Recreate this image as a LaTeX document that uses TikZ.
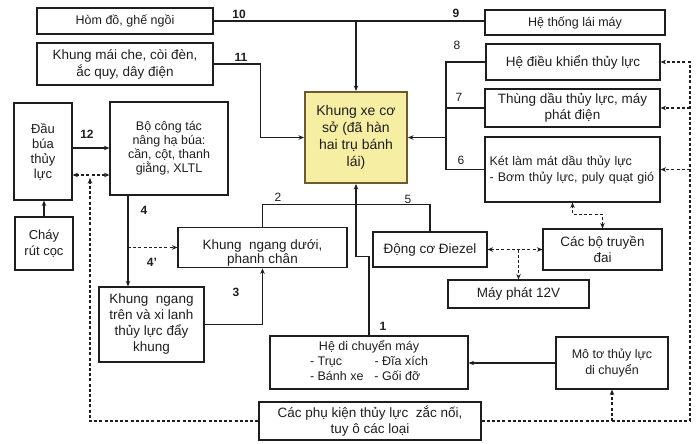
\documentclass[tikz,border=0pt]{standalone}
\usepackage{fontspec}
\setmainfont{Liberation Sans}
\usetikzlibrary{arrows.meta}
\definecolor{ink}{HTML}{1E1E1E}
\definecolor{yel}{HTML}{F6EEA2}
\definecolor{yelb}{HTML}{6E5A2C}
\begin{document}
\begin{tikzpicture}[x=1pt,y=-1pt,
  >={Stealth[length=5.5pt,width=4.5pt]},
  box/.style={draw=ink, line width=1.1pt, align=center, inner sep=2pt, text=ink},
  fbig/.style={font=\fontsize{13.5}{16}\selectfont},
  fmid/.style={font=\fontsize{12.5}{14.5}\selectfont},
  ln/.style={draw=ink, line width=1.1pt},
  arr/.style={draw=ink, line width=1.1pt, ->},
  dl/.style={draw=ink, line width=1.1pt, dash pattern=on 3pt off 2.2pt},
  lab/.style={font=\fontsize{12}{14}\selectfont\bfseries, text=ink, inner sep=0pt},
  labr/.style={font=\fontsize{12}{14}\selectfont, text=ink, inner sep=0pt}
]
\useasboundingbox (0,0) rectangle (696,444);

% boxes
\node[box, fmid, minimum width=176pt, minimum height=26pt] (hom) at (125,21) {Hòm đồ, ghế ngồi};
\node[box, font=\fontsize{13.5}{17}\selectfont, minimum width=176pt, minimum height=42pt] (mai) at (125,64) {Khung mái che, còi đèn,\\ắc quy, dây điện};
\node[box, fmid, minimum width=180pt, minimum height=25pt] (lai) at (575,22.5) {Hệ thống lái máy};
\node[box, fbig, minimum width=174pt, minimum height=36pt] (dk) at (573,62) {Hệ điều khiển thủy lực};
\node[box, fbig, minimum width=175pt, minimum height=38pt] (thung) at (572.5,108) {Thùng dầu thủy lực, máy\\phát điện};
\node[box, font=\fontsize{12.5}{16}\selectfont, minimum width=175pt, minimum height=65pt, text width=166pt, align=left] (ket) at (572.5,169.5) {Két làm mát dầu thủy lực\\- Bơm thủy lực, puly quạt gió};
\node[box, draw=yelb, fill=yel, line width=2pt, font=\fontsize{14}{17}\selectfont, minimum width=102pt, minimum height=91pt] (khung) at (356,137.5) {Khung xe cơ\\sở (đã hàn\\hai trụ bánh\\lái)};
\node[box, font=\fontsize{13}{15}\selectfont, minimum width=58pt, minimum height=97pt] (dau) at (43,151.5) {Đầu\\búa\\thủy\\lực};
\node[box, font=\fontsize{12.5}{14}\selectfont, minimum width=118pt, minimum height=93pt] (bo) at (169,148.5) {Bộ công tác\\nâng hạ búa:\\cần, cột, thanh\\giằng, XLTL};
\node[box, font=\fontsize{13}{16}\selectfont, minimum width=58pt, minimum height=53pt] (chay) at (44,243.5) {Cháy\\rút cọc};
\node[box, font=\fontsize{13.5}{14}\selectfont, minimum width=169pt, minimum height=35pt] (kngd) at (262.5,247.5) {\rule{0pt}{20pt}Khung~ ngang dưới,\\phanh chân};
\node[box, font=\fontsize{13.5}{16}\selectfont, minimum width=105pt, minimum height=75pt] (kngt) at (151.5,324.5) {Khung~ ngang\\trên và xi lanh\\thủy lực đẩy\\khung};
\node[box, fbig, minimum width=114pt, minimum height=35pt] (dc) at (430,249.5) {Động cơ Điezel};
\node[box, fbig, minimum width=119pt, minimum height=41pt] (dai) at (602.5,249.5) {Các bộ truyền\\đai};
\node[box, fbig, minimum width=141pt, minimum height=28pt] (mp) at (518.5,294) {Máy phát 12V};
\node[box, font=\fontsize{12.5}{15}\selectfont, minimum width=198pt, minimum height=53pt] (hdc) at (369,362.5) {\begin{tabular}{@{}l@{\hspace{11pt}}l@{}}\multicolumn{2}{c}{Hệ di chuyển máy}\\- Trục & - Đĩa xích\\- Bánh xe & - Gối đỡ\end{tabular}};
\node[box, font=\fontsize{12.5}{16}\selectfont, minimum width=112pt, minimum height=52pt] (mt) at (612,363) {Mô tơ thủy lực\\di chuyển};
\node[box, fbig, minimum width=222pt, minimum height=38pt] (pk) at (370,421) {Các phụ kiện thủy lực~ zắc nối,\\tuy ô các loại};

% helper coordinates
\coordinate (bus) at (446,137.5);
\coordinate (y148) at (0,148);
\coordinate (y175) at (0,175);
\coordinate (v4) at (128,0);
\coordinate (xr) at (690,0);
\coordinate (lup) at (90,178);

% solid connectors
\draw[ln] (hom.east) -- (lai.west |- hom.east);
\draw[arr] (khung.north |- hom.east) -- (khung.north);
\draw[arr] (mai.east) -- ++(47,0) |- (khung.west);
\draw[ln] (dk.west) -- (dk.west -| bus) -- (ket.west -| bus) -- (ket.west);
\draw[ln] (thung.west) -- (thung.west -| bus);
\draw[arr] (bus) -- (khung.east);
\draw[arr] (dau.east |- y148) -- (bo.west |- y148);
\draw[arr] (chay.north) -- (chay.north |- dau.south);
\draw[arr] (bo.south -| v4) -- (kngt.north -| v4);
\draw[arr] (kngt.east) -| (kngd.south);
\draw[ln] (kngd.north) -- ++(0,-22) -| (dc.north);
\draw[arr] (hdc.north) -- ++(0,-79) -| (khung.south);
\draw[arr] (mt.west) -- (hdc.east |- mt.west);

% dashed connectors
\draw[dl,->] (kngd.west -| v4) -- (kngd.west);
\draw[dl,<->] (dc.east) -- (dai.west);
\draw[dl,->] (mp.north |- dc.east) -- (mp.north);
\draw[dl,<->] (dai.north) -- ++(0,-14) -| (ket.south);
\draw[dl,<->] (dau.east |- y175) -- (bo.west |- y175);
\draw[dl,->] (pk.west) -| (lup);
\draw[dl,->] (pk.east) -| (dk.east -| xr) -- (dk.east);
\draw[dl,->] (thung.east -| xr) -- (thung.east);
\draw[dl,->] (ket.east -| xr) -- (ket.east);
\draw[dl,->] (mt.south |- pk.east) -- (mt.south);

% labels
\node[lab] (l10) at (239,14) {10};
\node[lab] (l9) at (456,13) {9};
\node[lab] (l11) at (241,57) {11};
\node[labr] (l8) at (457,45) {8};
\node[labr] (l7) at (459,97) {7};
\node[labr] (l6) at (461,160) {6};
\node[lab] (l12) at (87,134) {12};
\node[lab] (l4) at (144,210) {4};
\node[lab] (l4p) at (152,262) {4'};
\node[lab] (l3) at (236,292) {3};
\node[labr] (l2) at (278,197) {2};
\node[labr] (l5) at (408,199) {5};
\node[lab] (l1) at (383,326) {1};
\end{tikzpicture}
\end{document}
